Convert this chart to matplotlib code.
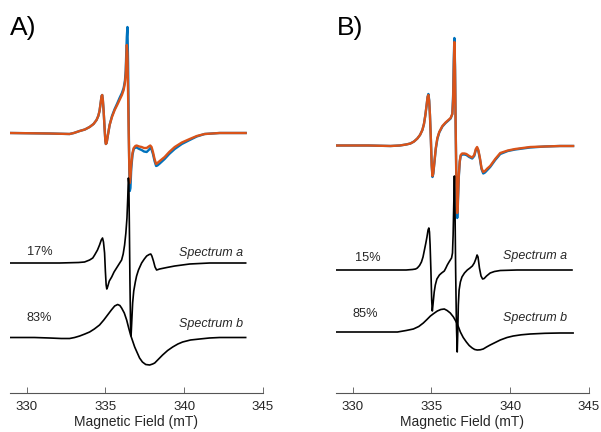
import matplotlib
matplotlib.use("Agg")
import matplotlib.pyplot as plt

plt.rcParams['font.family'] = ['Liberation Sans', 'DejaVu Sans']

# ---------------- Panel A data (field in mT, intensity arb. units) ----------------
a_fit_x = [329.00, 331.46, 332.73, 333.00, 333.37, 333.70, 334.00, 334.25, 334.44, 334.55,
           334.63, 334.70, 334.76, 334.80, 334.84, 334.89, 334.95, 335.00, 335.03, 335.08,
           335.14, 335.27, 335.42, 335.59, 335.75, 335.90, 336.05, 336.16, 336.24, 336.29,
           336.33, 336.36, 336.40, 336.44, 336.48, 336.52, 336.55, 336.59, 336.64, 336.72,
           336.80, 336.90, 336.98, 337.15, 337.30, 337.45, 337.62, 337.75, 337.85, 337.93,
           338.02, 338.12, 338.22, 338.30, 338.45, 338.76, 339.05, 339.40, 339.85, 340.35,
           340.80, 341.30, 342.25, 343.90]
a_fit_y = [0, -0.5, -1, 0, 2, 3.5, 6, 9, 13, 17,
           22, 30, 37, 38, 33, 22, 5, -8, -11, -10,
           -4, 8, 16, 23, 28, 33, 38, 43, 50, 58,
           75, 88, 80, 40, 0, -35, -50, -45, -32, -20,
           -15, -13, -12.5, -13.5, -14, -15, -15, -13.5, -12.5, -14,
           -19, -26, -31, -30, -28, -24, -19, -14, -9.5, -6,
           -3, -1, 0, 0]
a_exp_y = [0, -0.5, -1, 0, 2, 3.5, 6, 9, 13, 17,
           22, 30, 37, 38, 33, 22, 5, -8, -11, -10,
           -4, 8, 17, 24, 29.5, 35, 40, 45, 52, 62,
           82, 96, 106, 70, 10, -40, -58, -55, -36, -22,
           -16, -14.5, -14.5, -16, -17, -18.5, -19, -17, -15, -16.5,
           -21, -28, -33, -32.5, -30.5, -26, -21, -16, -11, -7,
           -3.5, -1, 0, 0]
a_spa_x = [329.00, 332.10, 333.30, 333.68, 334.00, 334.20, 334.32, 334.50, 334.63, 334.74,
           334.82, 334.88, 334.95, 335.00, 335.05, 335.09, 335.14, 335.25, 335.40, 335.55,
           335.71, 335.87, 336.03, 336.13, 336.22, 336.30, 336.37, 336.42, 336.46, 336.49,
           336.52, 336.56, 336.60, 336.63, 336.67, 336.73, 336.80, 336.90, 336.98, 337.10,
           337.30, 337.47, 337.62, 337.78, 337.88, 337.95, 338.05, 338.15, 338.25, 338.35,
           338.44, 338.90, 339.40, 340.35, 341.62, 343.90]
a_spa_y = [0, 0, 0.5, 1, 3, 5, 8, 13, 18, 23,
           25, 21, 10, -8, -22, -26, -24, -18, -14, -9,
           -5, -1, 3, 9, 18, 30, 45, 65, 85, 80,
           40, -20, -65, -73, -60, -40, -28, -19, -13, -7,
           0, 4, 7, 8.5, 9, 7, 2, -4, -7, -6.5,
           -6, -4.5, -3, -1, 0, 0]
a_spb_x = [329.00, 330.50, 331.46, 332.20, 332.73, 333.05, 333.37, 333.70, 334.00, 334.30,
           334.63, 334.90, 335.14, 335.38, 335.59, 335.78, 335.92, 336.03, 336.20, 336.35,
           336.48, 336.60, 336.73, 336.86, 337.00, 337.17, 337.35, 337.56, 337.81, 338.00,
           338.13, 338.38, 338.63, 338.95, 339.27, 339.60, 339.90, 340.40, 340.98, 341.60,
           342.25, 343.90]
a_spb_y = [-0.5, -0.5, -1, -1.5, -1.5, -0.5, 1, 3, 5, 8,
           12, 17, 22, 27, 31, 32.5, 31.5, 29, 24, 17,
           9, 2, -4, -10, -15, -21, -25, -27.5, -28, -27,
           -26, -22, -18, -13.5, -10, -7, -5, -3, -2, -1,
           -0.5, -0.5]

# ---------------- Panel B data ----------------
b_fit_x = [329.00, 331.00, 332.41, 333.00, 333.40, 333.67, 333.90, 334.11, 334.28, 334.43,
           334.53, 334.62, 334.70, 334.76, 334.81, 334.86, 334.91, 334.97, 335.02, 335.07,
           335.12, 335.19, 335.28, 335.38, 335.50, 335.70, 335.90, 336.08, 336.22, 336.33,
           336.38, 336.42, 336.46, 336.50, 336.54, 336.59, 336.64, 336.68, 336.74, 336.80,
           336.86, 336.95, 337.10, 337.22, 337.40, 337.59, 337.72, 337.82, 337.90, 337.98,
           338.08, 338.18, 338.29, 338.40, 338.55, 338.73, 339.05, 339.37, 339.85, 340.32,
           341.27, 342.20, 343.16, 343.99]
b_fit_y = [-0.5, -0.5, -1, -0.5, 0.5, 1.5, 3.5, 6.5, 10, 15,
           21, 30, 40, 48, 50, 44, 30, 5, -20, -31,
           -28, -17, -3, 7, 13, 19, 22.5, 25, 27, 31,
           45, 75, 103, 75, 20, -40, -68, -55, -30, -16,
           -10, -8.5, -8.5, -9, -11, -12.5, -10, -4, -2, -5,
           -13, -23, -27, -26, -23.5, -21, -14, -8, -5.5, -4,
           -2, -1.5, -1, -1]
b_exp_y = [-0.5, -0.5, -1, -0.5, 0.5, 1.5, 3.5, 6.5, 10, 15,
           21, 30, 40, 48, 51, 45, 30, 5, -20, -32,
           -29, -18, -4, 6, 12.5, 18.5, 22, 24.5, 26.5, 31,
           50, 85, 107, 80, 20, -45, -73, -60, -32, -17,
           -11, -9.5, -9.5, -10, -12, -13.5, -11, -5, -3, -6,
           -14, -24, -28.5, -27.5, -25, -22, -15, -9, -6, -4.5,
           -2.5, -1.5, -1, -1]
b_spa_x = [329.00, 333.40, 333.80, 334.00, 334.11, 334.25, 334.37, 334.47, 334.56, 334.65,
           334.72, 334.79, 334.84, 334.88, 334.92, 334.97, 335.02, 335.06, 335.10, 335.18,
           335.25, 335.35, 335.51, 335.65, 335.82, 335.92, 336.01, 336.12, 336.20, 336.28,
           336.34, 336.38, 336.42, 336.46, 336.50, 336.54, 336.59, 336.64, 336.67, 336.71,
           336.76, 336.84, 336.94, 337.10, 337.28, 337.45, 337.60, 337.72, 337.82, 337.90,
           337.96, 338.05, 338.15, 338.25, 338.35, 338.50, 338.73, 339.00, 339.37, 340.44,
           343.92]
b_spa_y = [0, 0, 0.5, 1, 2, 4.5, 8, 13, 20, 27,
           33, 40, 42, 38, 25, 0, -30, -41, -35, -22,
           -15, -9, -5, -3, -1, 2, 5, 8, 10, 12,
           17, 35, 65, 94, 60, 0, -55, -82, -65, -35,
           -20, -12, -7, -3, 0, 2, 4, 7, 11, 15,
           13, 2, -6, -9, -8.5, -6, -3, -1.5, -0.5, 0,
           0]
b_spb_x = [329.00, 330.70, 332.00, 332.85, 333.40, 333.86, 334.20, 334.49, 334.72, 334.94,
           335.15, 335.38, 335.60, 335.82, 336.00, 336.20, 336.40, 336.58, 336.72, 336.84,
           337.02, 337.22, 337.40, 337.59, 337.75, 337.91, 338.10, 338.29, 338.50, 338.73,
           339.05, 339.37, 339.80, 340.19, 340.70, 341.27, 342.20, 343.16, 343.99]
b_spb_y = [0, 0, 0, 0, 1.5, 3, 5.5, 9, 12.5, 16,
           18.5, 21, 22.5, 23, 21.5, 19, 15, 10, 5, 0,
           -5.5, -10, -13.5, -16, -17.5, -18, -17.8, -17, -15, -13,
           -10.5, -8, -5.5, -4, -2.8, -2, -1.3, -1, -1]

x_ticks = [330, 335, 340, 345]
panel_labels = ['A)', 'B)']
pct_a = ['17%', '83%']
pct_b = ['15%', '85%']
spec_names = ['Spectrum a', 'Spectrum b']
xlabel = 'Magnetic Field (mT)'

BLUE = '#0072BD'
ORANGE = '#D95319'
DARK = '#262626'

W, H = 601, 432
fig = plt.figure(figsize=(W / 100, H / 100), dpi=100)

def make_ax(left_px):
    ax = fig.add_axes([left_px / W, (H - 393) / H, 253 / W, 388 / H])
    ax.set_xlim(328.95, 345)
    ax.set_ylim(0, 388)
    for s in ['left', 'right', 'top']:
        ax.spines[s].set_visible(False)
    ax.spines['bottom'].set_color('#555555')
    ax.spines['bottom'].set_linewidth(0.8)
    ax.set_yticks([])
    ax.set_xticks(x_ticks)
    ax.tick_params(axis='x', direction='in', length=4, width=0.6, color='#555555',
                   labelsize=9.5, labelcolor=DARK, pad=6)
    ax.set_xlabel(xlabel, fontsize=10, color=DARK, labelpad=1)
    return ax

LW_C = 1.7
LW_K = 1.2

# Panel A
axA = make_ax(10)
offA = [260, 130, 56]
axA.plot(a_fit_x, [v + offA[0] for v in a_exp_y], color=BLUE, lw=LW_C, solid_joinstyle='round')
axA.plot(a_fit_x, [v + offA[0] for v in a_fit_y], color=ORANGE, lw=LW_C, solid_joinstyle='round')
axA.plot(a_spa_x, [v + offA[1] for v in a_spa_y], color='black', lw=LW_K, solid_joinstyle='round')
axA.plot(a_spb_x, [v + offA[2] for v in a_spb_y], color='black', lw=LW_K, solid_joinstyle='round')
axA.text(330.83, 141, pct_a[0], ha='center', va='center', fontsize=9.2, color=DARK)
axA.text(330.83, 75, pct_a[1], ha='center', va='center', fontsize=9.2, color=DARK)
axA.text(343.71, 140, spec_names[0], ha='right', va='center', fontsize=9, style='italic', color=DARK)
axA.text(343.71, 69, spec_names[1], ha='right', va='center', fontsize=9, style='italic', color=DARK)

# Panel B
axB = make_ax(336)
offB = [248, 123, 61]
axB.plot(b_fit_x, [v + offB[0] for v in b_exp_y], color=BLUE, lw=LW_C, solid_joinstyle='round')
axB.plot(b_fit_x, [v + offB[0] for v in b_fit_y], color=ORANGE, lw=LW_C, solid_joinstyle='round')
axB.plot(b_spa_x, [v + offB[1] for v in b_spa_y], color='black', lw=LW_K, solid_joinstyle='round')
axB.plot(b_spb_x, [v + offB[2] for v in b_spb_y], color='black', lw=LW_K, solid_joinstyle='round')
axB.text(330.95, 135, pct_b[0], ha='center', va='center', fontsize=9.2, color=DARK)
axB.text(330.82, 79, pct_b[1], ha='center', va='center', fontsize=9.2, color=DARK)
axB.text(343.61, 137, spec_names[0], ha='right', va='center', fontsize=9, style='italic', color=DARK)
axB.text(343.61, 75, spec_names[1], ha='right', va='center', fontsize=9, style='italic', color=DARK)

fig.text(10 / W, 1 - 28 / H, panel_labels[0], ha='left', va='center', fontsize=19, color='black')
fig.text(337 / W, 1 - 28 / H, panel_labels[1], ha='left', va='center', fontsize=19, color='black')

fig.savefig('out.png', dpi=100)
